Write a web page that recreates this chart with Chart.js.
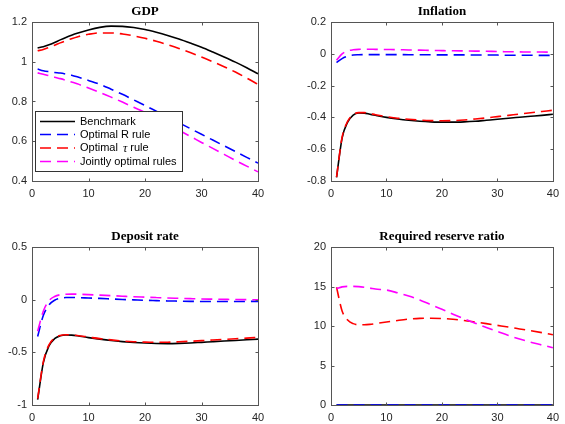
<!DOCTYPE html>
<html>
<head>
<meta charset="utf-8">
<script src="https://cdn.jsdelivr.net/npm/chart.js@4.4.0/dist/chart.umd.min.js"></script>
<style>
  html, body { margin: 0; padding: 0; background: #fff; }
  #wrap { position: relative; width: 565px; height: 424px; overflow: hidden; }
  .cell { position: absolute; }
</style>
</head>
<body>
<div id="wrap">
  <div class="cell" style="left:0;top:0"><canvas id="gdp" width="282" height="212"></canvas></div>
  <div class="cell" style="left:282px;top:0"><canvas id="infl" width="283" height="212"></canvas></div>
  <div class="cell" style="left:0;top:212px"><canvas id="dep" width="282" height="212"></canvas></div>
  <div class="cell" style="left:282px;top:212px"><canvas id="rrr" width="283" height="212"></canvas></div>
</div>
<script>
  // quarters after the shock
  const xs = [1, 2, 3, 4, 5, 6, 7, 8, 10, 12, 14, 16, 18, 20, 22, 24, 26, 28, 30, 32, 34, 36, 38, 40];
  const xTicks = [0, 10, 20, 30, 40];

  const seriesNames = ['Benchmark', 'Optimal R rule', 'Optimal \u03c4 rule', 'Jointly optimal rules'];

  // GDP
  const gdpBenchmark = [1.07, 1.075, 1.085, 1.097, 1.11, 1.122, 1.133, 1.143, 1.16, 1.173, 1.179, 1.178, 1.172, 1.162, 1.148, 1.132, 1.114, 1.094, 1.073, 1.049, 1.024, 0.998, 0.970, 0.940];
  const gdpOptR = [0.963, 0.955, 0.95, 0.946, 0.943, 0.938, 0.932, 0.924, 0.906, 0.887, 0.862, 0.836, 0.808, 0.78, 0.751, 0.722, 0.693, 0.664, 0.635, 0.606, 0.577, 0.548, 0.519, 0.49];
  const gdpOptTau = [1.055, 1.062, 1.072, 1.083, 1.095, 1.106, 1.116, 1.125, 1.138, 1.145, 1.145, 1.14, 1.13, 1.118, 1.103, 1.086, 1.067, 1.046, 1.024, 1.0, 0.975, 0.948, 0.918, 0.886];
  const gdpJoint = [0.944, 0.937, 0.93, 0.922, 0.915, 0.907, 0.898, 0.889, 0.868, 0.846, 0.822, 0.797, 0.771, 0.745, 0.715, 0.685, 0.655, 0.625, 0.594, 0.564, 0.534, 0.504, 0.475, 0.446];
  const gdpTicks = [0.4, 0.6, 0.8, 1, 1.2];

  // Inflation
  const inflBenchmark = [-0.777, -0.53, -0.43, -0.385, -0.372, -0.373, -0.38, -0.387, -0.4, -0.41, -0.418, -0.424, -0.428, -0.43, -0.43, -0.428, -0.424, -0.418, -0.412, -0.405, -0.399, -0.393, -0.387, -0.38];
  const inflOptR = [-0.055, -0.03, -0.015, -0.008, -0.006, -0.005, -0.005, -0.005, -0.005, -0.005, -0.006, -0.006, -0.006, -0.007, -0.007, -0.007, -0.008, -0.008, -0.008, -0.009, -0.009, -0.009, -0.01, -0.01];
  const inflOptTau = [-0.775, -0.525, -0.425, -0.383, -0.37, -0.37, -0.376, -0.383, -0.395, -0.405, -0.412, -0.417, -0.42, -0.421, -0.42, -0.416, -0.41, -0.403, -0.395, -0.387, -0.379, -0.371, -0.363, -0.355];
  const inflJoint = [-0.04, 0.0, 0.018, 0.025, 0.028, 0.029, 0.029, 0.028, 0.027, 0.026, 0.024, 0.023, 0.021, 0.02, 0.019, 0.018, 0.017, 0.016, 0.014, 0.013, 0.012, 0.011, 0.011, 0.01];
  const inflTicks = [-0.8, -0.6, -0.4, -0.2, 0, 0.2];

  // Deposit rate
  const depBenchmark = [-0.95, -0.6, -0.44, -0.37, -0.343, -0.335, -0.337, -0.343, -0.36, -0.375, -0.388, -0.398, -0.406, -0.412, -0.416, -0.417, -0.415, -0.411, -0.405, -0.399, -0.393, -0.387, -0.381, -0.375];
  const depOptR = [-0.35, -0.15, -0.05, -0.005, 0.013, 0.02, 0.021, 0.02, 0.016, 0.012, 0.007, 0.002, -0.002, -0.006, -0.009, -0.012, -0.014, -0.016, -0.017, -0.018, -0.018, -0.018, -0.017, -0.016];
  const depOptTau = [-0.94, -0.59, -0.43, -0.365, -0.34, -0.333, -0.335, -0.34, -0.355, -0.37, -0.382, -0.392, -0.399, -0.403, -0.405, -0.404, -0.4, -0.395, -0.389, -0.383, -0.377, -0.371, -0.365, -0.358];
  const depJoint = [-0.3, -0.11, -0.01, 0.03, 0.047, 0.052, 0.053, 0.052, 0.048, 0.043, 0.038, 0.033, 0.028, 0.024, 0.02, 0.016, 0.013, 0.01, 0.007, 0.005, 0.003, 0.001, 0.0, -0.001];
  const depTicks = [-1, -0.5, 0, 0.5];

  // Required reserve ratio
  const rrrBenchmark = [0, 0, 0, 0, 0, 0, 0, 0, 0, 0, 0, 0, 0, 0, 0, 0, 0, 0, 0, 0, 0, 0, 0, 0];
  const rrrOptR = [0, 0, 0, 0, 0, 0, 0, 0, 0, 0, 0, 0, 0, 0, 0, 0, 0, 0, 0, 0, 0, 0, 0, 0];
  const rrrOptTau = [14.9, 11.9, 10.75, 10.3, 10.15, 10.15, 10.2, 10.3, 10.5, 10.7, 10.87, 10.96, 10.98, 10.95, 10.85, 10.7, 10.5, 10.3, 10.08, 9.86, 9.63, 9.4, 9.16, 8.9];
  const rrrJoint = [14.73, 14.95, 15.02, 15.02, 14.98, 14.9, 14.8, 14.68, 14.55, 14.2, 13.8, 13.3, 12.7, 12.12, 11.5, 10.9, 10.35, 9.8, 9.3, 8.8, 8.35, 7.95, 7.6, 7.25];
  const rrrTicks = [0, 5, 10, 15, 20];

  const colors = ['#000000', '#0000ff', '#ff0000', '#ff00ff'];
  const dashes = [[], [11, 6], [11, 6], [11, 6]];
  const TICK_FONT = { family: '"Liberation Sans", Arial, sans-serif', size: 11 };

  const frame = {
    id: 'frame',
    afterDatasetsDraw(chart, args, opts) {
      const { ctx, chartArea: a, scales: { x, y } } = chart;
      const l = Math.round(a.left) + 0.5, r = Math.round(a.right) + 0.5;
      const t = Math.round(a.top) + 0.5, b = Math.round(a.bottom) + 0.5;
      ctx.save();
      ctx.strokeStyle = '#555555';
      ctx.lineWidth = 1;
      ctx.strokeRect(l, t, r - l, b - t);
      ctx.beginPath();
      x.ticks.forEach(tk => {
        const px = Math.round(x.getPixelForValue(tk.value)) + 0.5;
        ctx.moveTo(px, b); ctx.lineTo(px, b - 3);
        ctx.moveTo(px, t); ctx.lineTo(px, t + 3);
      });
      y.ticks.forEach(tk => {
        const py = Math.round(y.getPixelForValue(tk.value)) + 0.5;
        ctx.moveTo(l, py); ctx.lineTo(l + 3, py);
        ctx.moveTo(r, py); ctx.lineTo(r - 3, py);
      });
      ctx.stroke();
      ctx.font = 'bold 13px "Liberation Serif", "Times New Roman", serif';
      ctx.fillStyle = '#000';
      ctx.textAlign = 'center';
      ctx.textBaseline = 'middle';
      ctx.fillText(opts.text, (a.left + a.right) / 2, a.top - 10);
      ctx.restore();
    }
  };

  const legendBox = {
    id: 'legendBox',
    afterDraw(chart, args, opts) {
      if (!opts.show) return;
      const { ctx } = chart;
      ctx.save();
      ctx.fillStyle = '#fff';
      ctx.fillRect(35.5, 111.5, 147, 60);
      ctx.strokeStyle = '#333';
      ctx.lineWidth = 1;
      ctx.strokeRect(35.5, 111.5, 147, 60);
      const rows = [121.5, 134.5, 148, 161.5];
      chart.data.datasets.forEach((ds, i) => {
        const yy = rows[i];
        ctx.strokeStyle = ds.borderColor;
        ctx.lineWidth = ds.borderWidth;
        ctx.setLineDash(ds.borderDash || []);
        ctx.beginPath();
        ctx.moveTo(40, yy); ctx.lineTo(75, yy);
        ctx.stroke();
        ctx.setLineDash([]);
        ctx.fillStyle = '#000';
        ctx.textAlign = 'left';
        ctx.textBaseline = 'middle';
        const sans = '11px "Liberation Sans", Arial, sans-serif';
        const parts = ds.label.split('\u03c4');
        ctx.font = sans;
        if (parts.length === 1) {
          ctx.fillText(ds.label, 80, yy);
        } else {
          let px = 80;
          ctx.fillText(parts[0], px, yy);
          px += ctx.measureText(parts[0]).width + 2;
          ctx.font = 'italic 12px "Liberation Serif", serif';
          ctx.fillText('\u03c4', px, yy + 1);
          px += ctx.measureText('\u03c4').width;
          ctx.font = sans;
          ctx.fillText(parts[1], px, yy);
        }
      });
      ctx.restore();
    }
  };

  function makeChart(id, title, area, width, height, yTicks, series, showLegend) {
    const datasets = series.map((vals, i) => ({
      label: seriesNames[i],
      data: xs.map((x, k) => ({ x, y: vals[k] })),
      borderColor: colors[i],
      backgroundColor: colors[i],
      borderWidth: 1.6,
      borderDash: dashes[i],
      pointRadius: 0,
      cubicInterpolationMode: 'monotone',
      clip: 4,
      order: 4 - i
    }));
    return new Chart(document.getElementById(id), {
      type: 'line',
      data: { datasets },
      options: {
        responsive: false,
        animation: false,
        devicePixelRatio: 1,
        layout: { padding: { left: 0, top: area.top, right: width - area.right, bottom: 0 } },
        plugins: {
          legend: { display: false },
          tooltip: { enabled: false },
          frame: { text: title },
          legendBox: { show: showLegend }
        },
        scales: {
          x: {
            type: 'linear',
            min: 0,
            max: 40,
            afterBuildTicks: s => { s.ticks = xTicks.map(v => ({ value: v })); },
            afterFit: s => { s.height = height - area.bottom; },
            grid: { display: false, drawTicks: false },
            border: { display: false },
            ticks: { color: '#262626', font: TICK_FONT, padding: 6, maxRotation: 0, callback: v => String(v) }
          },
          y: {
            min: yTicks[0],
            max: yTicks[yTicks.length - 1],
            afterBuildTicks: s => { s.ticks = yTicks.map(v => ({ value: v })); },
            afterFit: s => { s.width = area.left; },
            grid: { display: false, drawTicks: false },
            border: { display: false },
            ticks: { color: '#262626', font: TICK_FONT, padding: 5, callback: v => String(v) }
          }
        }
      },
      plugins: [frame, legendBox]
    });
  }

  makeChart('gdp', 'GDP', { left: 32, top: 22, right: 258, bottom: 181 }, 282, 212, gdpTicks,
    [gdpBenchmark, gdpOptR, gdpOptTau, gdpJoint], true);
  makeChart('infl', 'Inflation', { left: 49, top: 22, right: 276, bottom: 181 }, 283, 212, inflTicks,
    [inflBenchmark, inflOptR, inflOptTau, inflJoint], false);
  makeChart('dep', 'Deposit rate', { left: 32, top: 35, right: 258, bottom: 193 }, 282, 212, depTicks,
    [depBenchmark, depOptR, depOptTau, depJoint], false);
  makeChart('rrr', 'Required reserve ratio', { left: 49, top: 35, right: 276, bottom: 193 }, 283, 212, rrrTicks,
    [rrrBenchmark, rrrOptR, rrrOptTau, rrrJoint], false);
</script>
</body>
</html>
